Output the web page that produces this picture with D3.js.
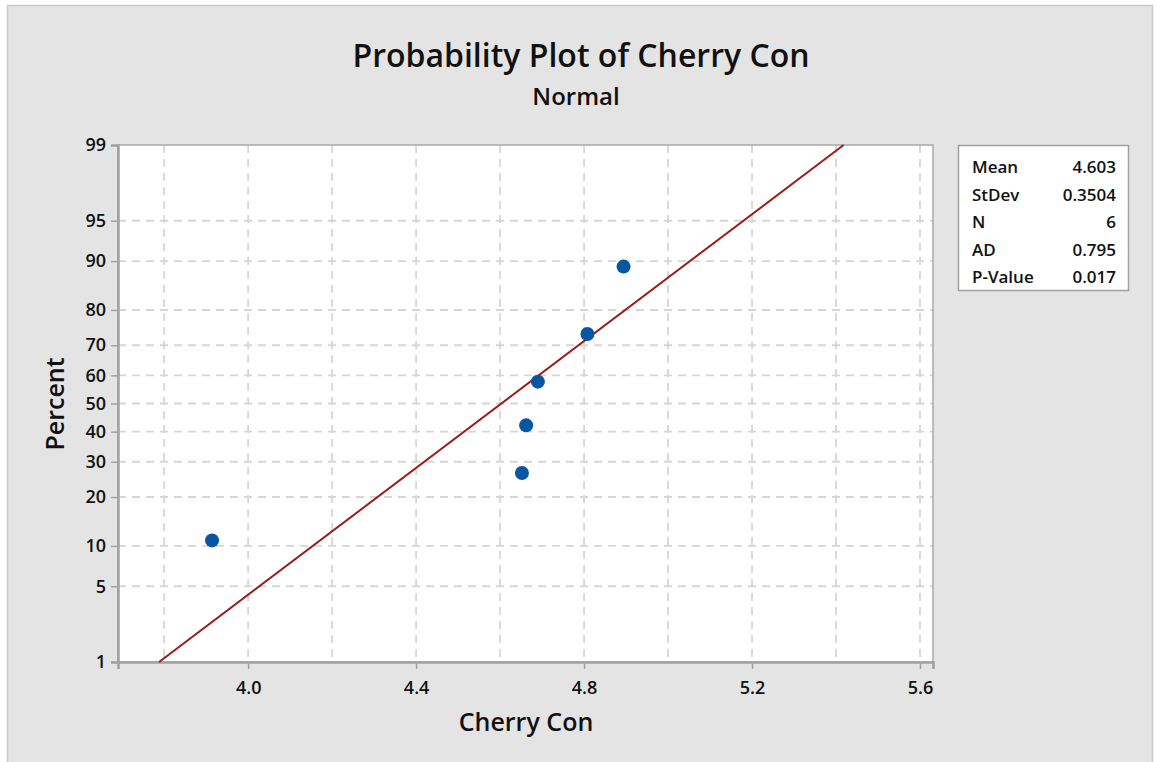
<!DOCTYPE html>
<html>
<head>
<meta charset="utf-8">
<script src="https://cdn.jsdelivr.net/npm/d3@7"></script>
<style>
  html, body { margin: 0; padding: 0; background: #ffffff; }
  svg { display: block; }
  text { font-family: "Open Sans", "Noto Sans", sans-serif; fill: #111; }
</style>
</head>
<body>
<svg id="chart" width="1157" height="762"></svg>
<script>
// ---------------- data ----------------
const title = "Probability Plot of Cherry Con";
const subtitle = "Normal";
const xLabel = "Cherry Con";
const yLabel = "Percent";
const cherryCon = [3.914, 4.652, 4.662, 4.690, 4.808, 4.894];
const plotPercent = [10.9, 26.6, 42.2, 57.8, 73.4, 89.1];
const percentTicks = [1, 5, 10, 20, 30, 40, 50, 60, 70, 80, 90, 95, 99];
const percentGrid = [5, 10, 20, 30, 40, 50, 60, 70, 80, 90, 95];
const xTicks = [4.0, 4.4, 4.8, 5.2, 5.6];
const xGrid = [3.8, 4.0, 4.2, 4.4, 4.6, 4.8, 5.0, 5.2, 5.4, 5.6];
const fitPercent = [1, 99];
const fitMean = 4.603;
const fitStDev = 0.3504;
const statNames = ["Mean", "StDev", "N", "AD", "P-Value"];
const statValues = ["4.603", "0.3504", "6", "0.795", "0.017"];

// inverse normal CDF (Acklam)
function probit(p) {
  const a = [-3.969683028665376e+01, 2.209460984245205e+02, -2.759285104469687e+02, 1.383577518672690e+02, -3.066479806614716e+01, 2.506628277459239e+00];
  const b = [-5.447609879822406e+01, 1.615858368580409e+02, -1.556989798598866e+02, 6.680131188771972e+01, -1.328068155288572e+01];
  const c = [-7.784894002430293e-03, -3.223964580411365e-01, -2.400758277161838e+00, -2.549732539343734e+00, 4.374664141464968e+00, 2.938163982698783e+00];
  const d = [7.784695709041462e-03, 3.224671290700398e-01, 2.445134137142996e+00, 3.754408661907416e+00];
  const pl = 0.02425, ph = 1 - pl;
  let q, r;
  if (p < pl) { q = Math.sqrt(-2 * Math.log(p)); return (((((c[0]*q+c[1])*q+c[2])*q+c[3])*q+c[4])*q+c[5]) / ((((d[0]*q+d[1])*q+d[2])*q+d[3])*q+1); }
  if (p > ph) { q = Math.sqrt(-2 * Math.log(1 - p)); return -(((((c[0]*q+c[1])*q+c[2])*q+c[3])*q+c[4])*q+c[5]) / ((((d[0]*q+d[1])*q+d[2])*q+d[3])*q+1); }
  q = p - 0.5; r = q * q;
  return (((((a[0]*r+a[1])*r+a[2])*r+a[3])*r+a[4])*r+a[5])*q / (((((b[0]*r+b[1])*r+b[2])*r+b[3])*r+b[4])*r+1);
}

// ---------------- layout ----------------
const svg = d3.select("#chart");
const L = 118, R = 933, T = 145, B = 662;

// panel
svg.append("rect").attr("x", 7.5).attr("y", 5.5).attr("width", 1145).attr("height", 762)
  .attr("fill", "#e4e4e4").attr("stroke", "#c9c9c9").attr("stroke-width", 1.5);

// scales
const x = d3.scaleLinear().domain([3.69, 5.631]).range([L, R]);
const yz = d3.scaleLinear().domain([probit(0.01), probit(0.99)]).range([B, T]);
function probScale() {
  const s = p => yz(probit(p / 100));
  s.domain = () => [1, 99];
  s.range = () => yz.range();
  s.copy = () => probScale();
  return s;
}
const y = probScale();

// plot area
svg.append("rect").attr("x", L).attr("y", T).attr("width", R - L).attr("height", B - T)
  .attr("fill", "#ffffff");

// grid
const grid = svg.append("g").attr("stroke", "#d6d6d6").attr("stroke-width", 1.8)
  .attr("stroke-dasharray", "8,6").attr("fill", "none");
grid.selectAll("line.h").data(percentGrid).join("line").attr("class", "h")
  .attr("x1", L).attr("x2", R).attr("y1", d => y(d)).attr("y2", d => y(d));
grid.selectAll("line.v").data(xGrid).join("line").attr("class", "v")
  .attr("y1", T).attr("y2", B).attr("x1", d => x(d)).attr("x2", d => x(d));

// border of plot area
svg.append("rect").attr("x", L).attr("y", T).attr("width", R - L).attr("height", B - T)
  .attr("fill", "none").attr("stroke", "#a8a8a8").attr("stroke-width", 1.5);

// axes
const yAxis = d3.axisLeft(y).tickValues(percentTicks).tickFormat(d => String(d)).tickSize(7).tickPadding(5);
const gy = svg.append("g").attr("transform", `translate(${L},0)`).call(yAxis);
const xAxis = d3.axisBottom(x).tickValues(xTicks).tickFormat(d3.format(".1f")).tickSize(7).tickPadding(12);
const gx = svg.append("g").attr("transform", `translate(0,${B})`).call(xAxis);
[gy, gx].forEach(g => {
  g.select(".domain").attr("stroke", "#a0a0a0").attr("stroke-width", 2.5);
  g.selectAll(".tick line").attr("stroke", "#a0a0a0").attr("stroke-width", 1.5);
  g.selectAll(".tick text").attr("font-size", 18).attr("font-weight", 600)
    .attr("font-family", "'Open Sans', sans-serif").attr("fill", "#111");
});

// fit line
const fitLine = fitPercent.map(p => [fitMean + fitStDev * probit(p / 100), p]);
svg.append("path").datum(fitLine)
  .attr("d", d3.line().x(d => x(d[0])).y(d => y(d[1])))
  .attr("stroke", "#9b1b1b").attr("stroke-width", 2).attr("fill", "none");

// points
svg.append("g").selectAll("circle").data(cherryCon.map((v, i) => [v, plotPercent[i]])).join("circle")
  .attr("cx", d => x(d[0])).attr("cy", d => y(d[1])).attr("r", 7)
  .attr("fill", "#0656a4");

// titles
svg.append("text").attr("x", 581).attr("y", 67).attr("text-anchor", "middle")
  .attr("font-size", 32).attr("font-weight", 600).text(title);
svg.append("text").attr("x", 576).attr("y", 105).attr("text-anchor", "middle")
  .attr("font-size", 24).attr("font-weight", 600).text(subtitle);
svg.append("text").attr("x", 526).attr("y", 731).attr("text-anchor", "middle")
  .attr("font-size", 25).attr("font-weight", 600).text(xLabel);
svg.append("text").attr("transform", "translate(64,404) rotate(-90)").attr("text-anchor", "middle")
  .attr("font-size", 25).attr("font-weight", 600).text(yLabel);

// stats box
const box = svg.append("g");
box.append("rect").attr("x", 958.5).attr("y", 145.5).attr("width", 170).attr("height", 145)
  .attr("fill", "#ffffff").attr("stroke", "#a0a0a0").attr("stroke-width", 1.5);
statNames.forEach((n, i) => {
  const yy = 173 + i * 27.5;
  box.append("text").attr("x", 972).attr("y", yy).attr("font-size", 17).attr("font-weight", 600).text(n);
  box.append("text").attr("x", 1116).attr("y", yy).attr("text-anchor", "end")
    .attr("font-size", 17).attr("font-weight", 600).text(statValues[i]);
});
</script>
</body>
</html>
